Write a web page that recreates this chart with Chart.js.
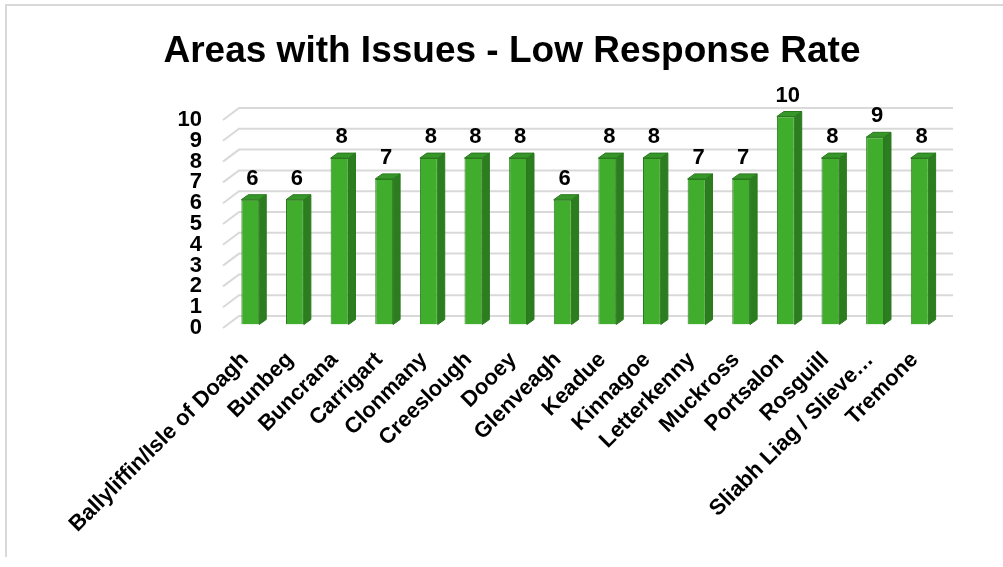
<!DOCTYPE html>
<html>
<head>
<meta charset="utf-8">
<title>Areas with Issues - Low Response Rate</title>
<script src="https://cdn.jsdelivr.net/npm/chart.js@4/dist/chart.umd.min.js"></script>
<style>
  html, body { margin: 0; padding: 0; background: #ffffff; }
  canvas { display: block; }
</style>
</head>
<body>
<canvas id="chart" width="1003" height="567"></canvas>
<script>
// Areas and number of reported low-response issues
const areas = [
  'Ballyliffin/Isle of Doagh', 'Bunbeg', 'Buncrana', 'Carrigart', 'Clonmany',
  'Creeslough', 'Dooey', 'Glenveagh', 'Keadue', 'Kinnagoe', 'Letterkenny',
  'Muckross', 'Portsalon', 'Rosguill', 'Sliabh Liag / Slieve\u2026', 'Tremone'
];
const issueCounts = [6, 6, 8, 7, 8, 8, 8, 6, 8, 8, 7, 7, 10, 8, 9, 8];
const countTicks = [0, 1, 2, 3, 4, 5, 6, 7, 8, 9, 10];
const chartTitle = 'Areas with Issues - Low Response Rate';

const FONT = '"Liberation Sans", Arial, Helvetica, sans-serif';

// pseudo-3D geometry: back wall and bar depth offsets
const WALL = { dx: 16, dy: -12 };
const BAR_SHIFT = { dx: 5, dy: -3.5 };
const BAR_DEPTH = { dx: 7, dy: -5 };
const GRID_COLOR = '#d9d9d9';
const FRONT = '#41ad2c';
const SIDE = '#2c7d1f';
const TOP = '#36962a';
const EDGE = '#2a7a1d';

const frame = {
  id: 'frame',
  beforeDraw(chart) {
    const ctx = chart.ctx;
    ctx.save();
    ctx.fillStyle = '#ffffff';
    ctx.fillRect(0, 0, chart.width, chart.height);
    ctx.strokeStyle = GRID_COLOR;
    ctx.lineWidth = 2;
    ctx.beginPath();
    ctx.moveTo(6, 557);
    ctx.lineTo(6, 5);
    ctx.lineTo(chart.width, 5);
    ctx.stroke();
    ctx.fillStyle = '#000000';
    ctx.font = 'bold 37px ' + FONT;
    ctx.textAlign = 'center';
    ctx.textBaseline = 'alphabetic';
    ctx.fillText(chartTitle, 512, 62);
    ctx.restore();
  }
};

const walls = {
  id: 'walls',
  beforeDatasetsDraw(chart) {
    const ctx = chart.ctx;
    const y = chart.scales.y;
    const left = chart.chartArea.left, right = chart.chartArea.right;
    ctx.save();
    ctx.strokeStyle = GRID_COLOR;
    ctx.lineWidth = 2;
    countTicks.forEach(v => {
      const py = y.getPixelForValue(v);
      ctx.beginPath();
      ctx.moveTo(left, py);
      ctx.lineTo(left + WALL.dx, py + WALL.dy);
      ctx.lineTo(right + WALL.dx, py + WALL.dy);
      ctx.stroke();
    });
    ctx.restore();
    // bars sit part-way into the depth
    ctx.save();
    ctx.translate(BAR_SHIFT.dx, BAR_SHIFT.dy);
  },
  afterDatasetsDraw(chart) {
    const ctx = chart.ctx;
    const meta = chart.getDatasetMeta(0);
    meta.data.forEach((bar, i) => {
      const p = bar.getProps(['x', 'y', 'base', 'width'], true);
      const l = p.x - p.width / 2, r = p.x + p.width / 2;
      const t = p.y, b = p.base;
      ctx.lineWidth = 1;
      ctx.strokeStyle = EDGE;
      // side face
      ctx.beginPath();
      ctx.moveTo(r, t);
      ctx.lineTo(r + BAR_DEPTH.dx, t + BAR_DEPTH.dy);
      ctx.lineTo(r + BAR_DEPTH.dx, b + BAR_DEPTH.dy);
      ctx.lineTo(r, b);
      ctx.closePath();
      ctx.fillStyle = SIDE;
      ctx.fill();
      ctx.stroke();
      // top face
      ctx.beginPath();
      ctx.moveTo(l, t);
      ctx.lineTo(l + BAR_DEPTH.dx, t + BAR_DEPTH.dy);
      ctx.lineTo(r + BAR_DEPTH.dx, t + BAR_DEPTH.dy);
      ctx.lineTo(r, t);
      ctx.closePath();
      ctx.fillStyle = TOP;
      ctx.fill();
      ctx.stroke();
      // value label
      ctx.fillStyle = '#000000';
      ctx.font = 'bold 22px ' + FONT;
      ctx.textAlign = 'center';
      ctx.textBaseline = 'alphabetic';
      ctx.fillText(String(issueCounts[i]), p.x + 2, t - 15);
    });
    ctx.restore();
  }
};

new Chart(document.getElementById('chart'), {
  type: 'bar',
  data: {
    labels: areas,
    datasets: [{
      data: issueCounts,
      backgroundColor: FRONT,
      borderColor: EDGE,
      borderWidth: 1,
      barPercentage: 0.4,
      categoryPercentage: 1.0
    }]
  },
  options: {
    responsive: false,
    devicePixelRatio: 1,
    animation: false,
    events: [],
    layout: { padding: { top: 120, right: 66, left: 0, bottom: 0 } },
    plugins: {
      legend: { display: false },
      title: { display: false },
      tooltip: { enabled: false }
    },
    scales: {
      x: {
        grid: { display: false, drawTicks: false },
        border: { display: false },
        afterFit(scale) { scale.height = 567 - 328; },
        ticks: {
          autoSkip: false,
          minRotation: 45,
          maxRotation: 45,
          padding: 19,
          color: '#000000',
          font: { family: FONT, size: 22, weight: 'bold' }
        }
      },
      y: {
        min: 0,
        max: 10,
        afterFit(scale) { scale.width = 223; },
        afterBuildTicks(scale) { scale.ticks = countTicks.map(v => ({ value: v })); },
        grid: { display: false, drawTicks: false },
        border: { display: false },
        ticks: {
          autoSkip: false,
          padding: 21,
          color: '#000000',
          font: { family: FONT, size: 22, weight: 'bold' }
        }
      }
    }
  },
  plugins: [frame, walls]
});
</script>
</body>
</html>
